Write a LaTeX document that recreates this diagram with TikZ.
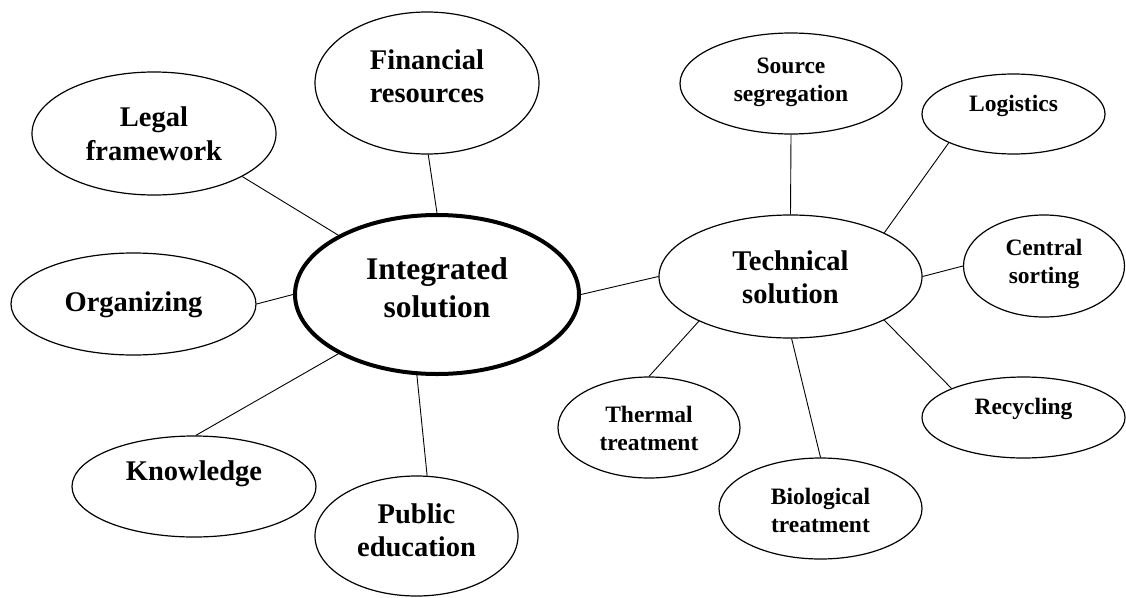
\documentclass[tikz,border=0pt]{standalone}
\usepackage{fontspec}
\setmainfont{Liberation Serif}
\usetikzlibrary{shapes.geometric}
\tikzset{bubble/.style = {draw, ellipse, inner sep = 0, line width = 1.2}}
\tikzset{hub/.style = {bubble, line width = 4}}
\tikzset{link/.style = {line width = 0.9}}
\tikzset{hubtxt/.style = {align = center, font = \fontsize{31.5}{38}\selectfont\bfseries}}
\tikzset{midtxt/.style = {align = center, font = \fontsize{28.5}{33}\selectfont\bfseries}}
\tikzset{sidetxt/.style = {align = center, font = \fontsize{28.5}{33.5}\selectfont\bfseries}}
\tikzset{smalltxt/.style = {align = center, font = \fontsize{23.5}{28}\selectfont\bfseries}}

\begin{document}
\begin{tikzpicture}[x = 1pt, y = -1pt]
    \useasboundingbox (0, 0) rectangle (1126, 597);

    % left half
    \node [hub, minimum width = 284, minimum height = 159,
      label = {[hubtxt, yshift = 6.5]center:Integrated\\solution}] (integ) at (437, 294.5) {};
    \node [bubble, minimum width = 224, minimum height = 142,
      label = {[sidetxt, yshift = 6.5]center:Financial\\resources}] (fin) at (427, 83) {};
    \node [bubble, minimum width = 244, minimum height = 123,
      label = {[sidetxt, yshift = 0]center:Legal\\framework}] (legal) at (154, 133.5) {};
    \node [bubble, minimum width = 245, minimum height = 102,
      label = {[sidetxt, yshift = -1]center:Organizing}] (org) at (133.5, 304) {};
    \node [bubble, minimum width = 244, minimum height = 101,
      label = {[sidetxt, yshift = 12.5]center:Knowledge}] (know) at (194, 486.5) {};
    \node [bubble, minimum width = 203, minimum height = 120,
      label = {[sidetxt, yshift = 5.5]center:Public\\education}] (pub) at (416.5, 536) {};

    % right half
    \node [bubble, minimum width = 263, minimum height = 123,
      label = {[midtxt, yshift = -0.5]center:Technical\\solution}] (tech) at (790.5, 276.5) {};
    \node [bubble, minimum width = 222, minimum height = 101,
      label = {[smalltxt, yshift = 1]center:Source\\segregation}] (src) at (791, 83.5) {};
    \node [bubble, minimum width = 183, minimum height = 80,
      label = {[smalltxt, yshift = 8]center:Logistics}] (logi) at (1013.5, 114) {};
    \node [bubble, minimum width = 161, minimum height = 102,
      label = {[smalltxt, yshift = 2]center:Central\\sorting}] (cent) at (1044, 266) {};
    \node [bubble, minimum width = 203, minimum height = 81,
      label = {[smalltxt, yshift = 8.5]center:Recycling}] (recy) at (1023.5, 417.5) {};
    \node [bubble, minimum width = 203, minimum height = 101,
      label = {[smalltxt, yshift = -1.5]center:Biological\\treatment}] (bio) at (820.5, 508.5) {};
    \node [bubble, minimum width = 182, minimum height = 101,
      label = {[smalltxt, yshift = -1]center:Thermal\\treatment}] (therm) at (649, 427.5) {};

    \draw [link] (legal.-26) -- (integ.149);
    \draw [link] (fin.-89) -- (integ.90);
    \draw [link] (org.0) -- (integ.180);
    \draw [link] (know.88) -- (integ.211);
    \draw [link] (pub.80) -- (integ.256);
    \draw [link] (integ.0) -- (tech.180);
    \draw [link] (tech.90) -- (src.-90);
    \draw [link] (tech.25) -- (logi.204);
    \draw [link] (tech.0) -- (cent.180);
    \draw [link] (tech.-25) -- (recy.158);
    \draw [link] (tech.-89) -- (bio.90);
    \draw [link] (tech.206) -- (therm.90);
  \end{tikzpicture}
\end{document}
